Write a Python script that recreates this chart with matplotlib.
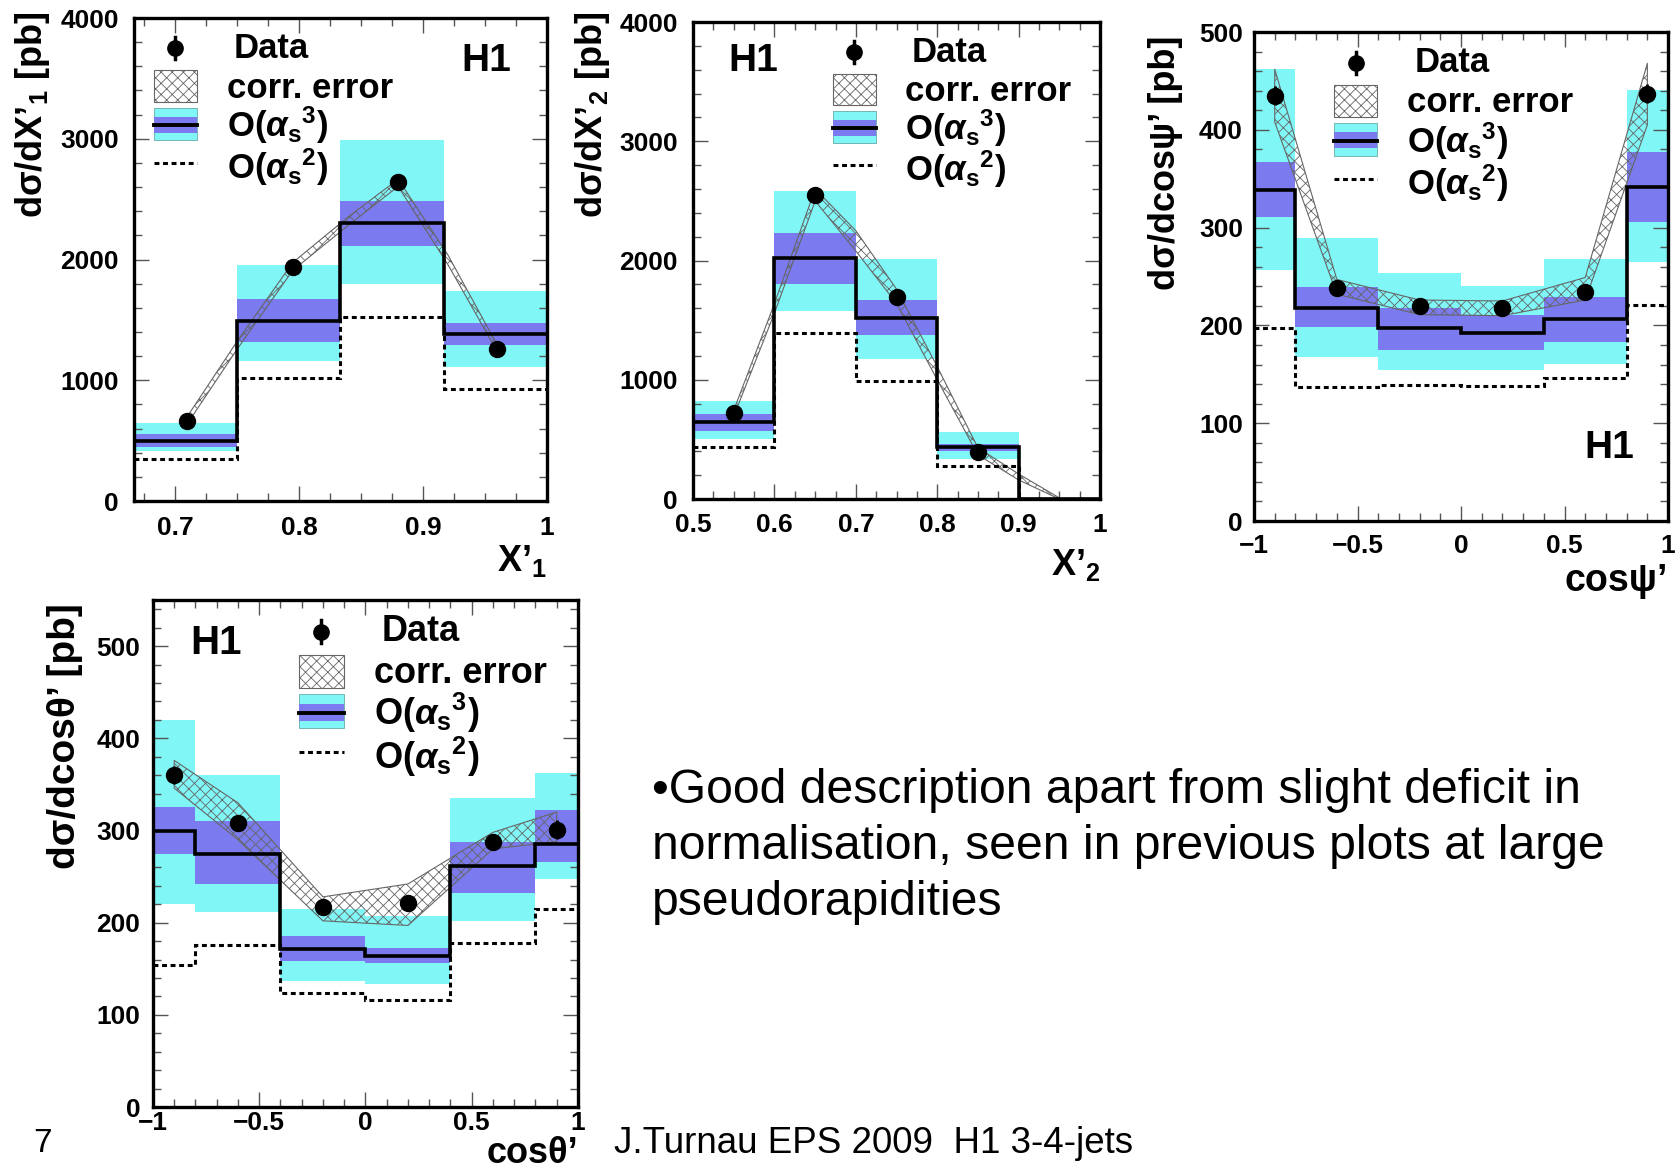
import numpy as np
import matplotlib
matplotlib.use('Agg')
import matplotlib.pyplot as plt
from matplotlib.patches import Rectangle
from matplotlib.ticker import MultipleLocator

plt.rcParams['font.family'] = ['Liberation Sans', 'DejaVu Sans']
plt.rcParams['font.weight'] = 'bold'
plt.rcParams['mathtext.fontset'] = 'custom'
plt.rcParams['mathtext.rm'] = 'Liberation Sans:bold'
plt.rcParams['mathtext.it'] = 'Liberation Sans:italic:bold'
plt.rcParams['mathtext.bf'] = 'Liberation Sans:bold'
plt.rcParams['hatch.linewidth'] = 0.6

CYAN = '#80f6f6'
BLUE = '#7b7bef'
HATCH = '#666666'

# ---- dσ/dX'1 ----
edges1 = [0.667, 0.75, 0.833, 0.917, 1.0]
nlo1 = [497, 1494, 2302, 1381]
cyan_lo1 = [415, 1159, 1799, 1107]
cyan_hi1 = [650, 1951, 2988, 1741]
blue_lo1 = [451, 1320, 2113, 1290]
blue_hi1 = [558, 1677, 2485, 1473]
lo1 = [345, 1015, 1524, 930]
data_x1 = [0.71, 0.795, 0.88, 0.96]
data_y1 = [665, 1936, 2640, 1259]
data_e1 = [40, 50, 50, 40]
band_x1 = [0.71, 0.75, 0.795, 0.84, 0.88, 0.92, 0.96]
band_hi1 = [700, 1320, 1975, 2355, 2665, 2040, 1290]
band_lo1 = [640, 1255, 1910, 2285, 2605, 1960, 1235]

# ---- dσ/dX'2 ----
edges2 = [0.5, 0.6, 0.7, 0.8, 0.9, 1.0]
nlo2 = [647, 2021, 1521, 434, 0]
cyan_lo2 = [504, 1573, 1176, 339, 0]
cyan_hi2 = [824, 2586, 2012, 565, 0]
blue_lo2 = [571, 1802, 1374, 405, 0]
blue_hi2 = [713, 2229, 1670, 458, 0]
lo2 = [437, 1389, 986, 275, 0]
data_x2 = [0.55, 0.65, 0.75, 0.85]
data_y2 = [718, 2553, 1695, 397]
data_e2 = [40, 60, 50, 30]
band_x2 = [0.55, 0.6, 0.65, 0.7, 0.75, 0.8, 0.85, 0.9, 0.95]
band_hi2 = [745, 1640, 2600, 2250, 1760, 1110, 430, 210, 10]
band_lo2 = [695, 1560, 2500, 2080, 1640, 1000, 370, 160, 0]

# ---- dσ/dcosψ' ----
edges3 = [-1, -0.8, -0.4, 0, 0.4, 0.8, 1]
nlo3 = [338, 218, 197, 192, 207, 342]
cyan_lo3 = [257, 168, 154, 154, 161, 265]
cyan_hi3 = [462, 289, 254, 240, 268, 441]
blue_lo3 = [311, 198, 175, 175, 183, 306]
blue_hi3 = [367, 239, 218, 211, 229, 377]
lo3 = [197, 137, 139, 138, 146, 221]
data_x3 = [-0.9, -0.6, -0.2, 0.2, 0.6, 0.9]
data_y3 = [435, 238, 220, 218, 234, 437]
data_e3 = [10, 6, 5, 5, 6, 10]
band_x3 = [-0.9, -0.6, -0.2, 0.2, 0.6, 0.9]
band_hi3 = [462, 247, 226, 225, 249, 468]
band_lo3 = [408, 232, 211, 210, 226, 405]

# ---- dσ/dcosθ' ----
edges4 = [-1, -0.8, -0.4, 0, 0.4, 0.8, 1]
nlo4 = [300, 275, 171, 164, 261, 285]
cyan_lo4 = [220, 212, 137, 134, 202, 247]
cyan_hi4 = [420, 360, 215, 207, 335, 362]
blue_lo4 = [274, 242, 158, 156, 232, 266]
blue_hi4 = [326, 310, 186, 173, 287, 322]
lo4 = [154, 176, 124, 116, 178, 215]
data_x4 = [-0.9, -0.6, -0.2, 0.2, 0.6, 0.9]
data_y4 = [360, 308, 217, 221, 288, 301]
data_e4 = [10, 8, 6, 6, 8, 10]
band_x4 = [-0.9, -0.6, -0.2, 0.2, 0.6, 0.9]
band_hi4 = [376, 330, 228, 242, 298, 320]
band_lo4 = [346, 290, 202, 197, 280, 288]

xticks12 = [[0.7, 0.8, 0.9, 1.0], [0.5, 0.6, 0.7, 0.8, 0.9, 1.0]]
xticklabels12 = [['0.7', '0.8', '0.9', '1'], ['0.5', '0.6', '0.7', '0.8', '0.9', '1']]
xticks_cos = [-1, -0.5, 0, 0.5, 1]
xticklabels_cos = ['\u22121', '\u22120.5', '0', '0.5', '1']

O3 = r'O($\alpha_{\mathrm{s}}{}^{\mathrm{3}}$)'
O2 = r'O($\alpha_{\mathrm{s}}{}^{\mathrm{2}}$)'

fig = plt.figure(figsize=(16.81, 11.69), dpi=100)


def panel(rect, edges, nlo, clo, chi, blo, bhi, lo, dx, dy, de, bx, blo_, bhi_):
    ax = fig.add_axes(rect)
    e = np.array(edges)
    w = np.diff(e)
    ax.bar(e[:-1], np.array(chi) - np.array(clo), bottom=clo, width=w,
           align='edge', color=CYAN, linewidth=0, zorder=1)
    ax.bar(e[:-1], np.array(bhi) - np.array(blo), bottom=blo, width=w,
           align='edge', color=BLUE, linewidth=0, zorder=2)
    ax.fill_between(bx, blo_, bhi_, facecolor='none', edgecolor=HATCH,
                    hatch='xxx', linewidth=0.8, zorder=3)
    ax.stairs(nlo, edges, color='black', linewidth=2.6, baseline=None, zorder=4)
    ax.stairs(lo, edges, color='black', linewidth=2.2, linestyle=(0, (1.6, 1.2)),
              baseline=None, zorder=4)
    ax.errorbar(dx, dy, yerr=de, fmt='o', color='black', ms=11.5,
                elinewidth=2, capsize=0, zorder=5)
    for s in ax.spines.values():
        s.set_linewidth(2.4)
        s.set_zorder(6)
    ax.tick_params(which='both', direction='in', top=True, right=True,
                   color='#555555', labelsize=19, width=1)
    ax.tick_params(which='major', length=11)
    ax.tick_params(which='minor', length=6)
    return ax


def legend(ax, bx, fs=25):
    w = 0.105
    ax.plot([bx + w / 2], [0.937], 'o', color='black', ms=11,
            transform=ax.transAxes, clip_on=False, zorder=7)
    ax.plot([bx + w / 2] * 2, [0.915, 0.96], color='black', lw=2.5,
            transform=ax.transAxes, clip_on=False, zorder=7)
    ax.add_patch(Rectangle((bx, 0.826), w, 0.066, transform=ax.transAxes,
                           facecolor='white', edgecolor=HATCH, hatch='xxx',
                           lw=0.8, zorder=7))
    ax.add_patch(Rectangle((bx, 0.747), w, 0.067, transform=ax.transAxes,
                           facecolor=CYAN, edgecolor='#66aaaa', lw=0.6, zorder=7))
    ax.add_patch(Rectangle((bx, 0.762), w, 0.033, transform=ax.transAxes,
                           facecolor=BLUE, lw=0, zorder=7))
    ax.plot([bx, bx + w], [0.778, 0.778], color='black', lw=2.8,
            transform=ax.transAxes, zorder=8)
    ax.plot([bx, bx + w], [0.700, 0.700], color='black', lw=2.2,
            linestyle=(0, (1.6, 1.2)), transform=ax.transAxes, zorder=8)
    tx = bx + w + 0.072
    ax.text(tx + 0.017, 0.937, 'Data', transform=ax.transAxes, fontsize=fs,
            va='center', ha='left')
    ax.text(tx, 0.855, 'corr. error', transform=ax.transAxes, fontsize=fs,
            va='center', ha='left')
    ax.text(tx, 0.777, O3, transform=ax.transAxes, fontsize=fs,
            va='center', ha='left')
    ax.text(tx, 0.691, O2, transform=ax.transAxes, fontsize=fs,
            va='center', ha='left')


# panel 1
ax1 = panel([0.0797, 0.5714, 0.2457, 0.4132], edges1, nlo1, cyan_lo1, cyan_hi1,
            blue_lo1, blue_hi1, lo1, data_x1, data_y1, data_e1,
            band_x1, band_lo1, band_hi1)
ax1.set_xlim(0.667, 1.0)
ax1.set_ylim(0, 4000)
ax1.set_xticks(xticks12[0], xticklabels12[0])
ax1.set_yticks([0, 1000, 2000, 3000, 4000])
ax1.xaxis.set_minor_locator(MultipleLocator(0.025))
ax1.yaxis.set_minor_locator(MultipleLocator(200))
ax1.tick_params(axis='x', pad=11)
ax1.tick_params(axis='y', pad=11)
legend(ax1, 0.048)
ax1.text(0.913, 0.911, 'H1', transform=ax1.transAxes, fontsize=28,
         ha='right', va='center')
ax1.text(-0.246, 1.0145, "d\u03c3/dX\u2019$_{\\mathrm{1}}$ [pb]", rotation=90,
         transform=ax1.transAxes, fontsize=26, ha='center', va='top')
ax1.text(1.0, -0.087, "X\u2019$_{\\mathrm{1}}$", transform=ax1.transAxes,
         fontsize=26, ha='right', va='top')

# panel 2
ax2 = panel([0.4123, 0.5731, 0.2421, 0.4080], edges2, nlo2, cyan_lo2, cyan_hi2,
            blue_lo2, blue_hi2, lo2, data_x2, data_y2, data_e2,
            band_x2, band_lo2, band_hi2)
ax2.set_xlim(0.5, 1.0)
ax2.set_ylim(0, 4000)
ax2.set_xticks(xticks12[1], xticklabels12[1])
ax2.set_yticks([0, 1000, 2000, 3000, 4000])
ax2.xaxis.set_minor_locator(MultipleLocator(0.025))
ax2.yaxis.set_minor_locator(MultipleLocator(200))
ax2.tick_params(axis='x', pad=10)
ax2.tick_params(axis='y', pad=11)
legend(ax2, 0.344)
ax2.text(0.086, 0.918, 'H1', transform=ax2.transAxes, fontsize=28,
         ha='left', va='center')
ax2.text(-0.248, 1.023, "d\u03c3/dX\u2019$_{\\mathrm{2}}$ [pb]", rotation=90,
         transform=ax2.transAxes, fontsize=26, ha='center', va='top')
ax2.text(1.0, -0.10, "X\u2019$_{\\mathrm{2}}$", transform=ax2.transAxes,
         fontsize=26, ha='right', va='top')

# panel 3
ax3 = panel([0.7460, 0.5543, 0.2463, 0.4183], edges3, nlo3, cyan_lo3, cyan_hi3,
            blue_lo3, blue_hi3, lo3, data_x3, data_y3, data_e3,
            band_x3, band_lo3, band_hi3)
ax3.set_xlim(-1, 1)
ax3.set_ylim(0, 500)
ax3.set_xticks(xticks_cos, xticklabels_cos)
ax3.set_yticks([0, 100, 200, 300, 400, 500])
ax3.xaxis.set_minor_locator(MultipleLocator(0.1))
ax3.yaxis.set_minor_locator(MultipleLocator(20))
ax3.tick_params(axis='x', pad=9)
ax3.tick_params(axis='y', pad=8)
legend(ax3, 0.193)
ax3.text(0.918, 0.149, 'H1', transform=ax3.transAxes, fontsize=28,
         ha='right', va='center')
ax3.text(-0.215, 0.992, "d\u03c3/dcos\u03c8\u2019 [pb]", rotation=90,
         transform=ax3.transAxes, fontsize=26, ha='center', va='top')
ax3.text(1.0, -0.086, "cos\u03c8\u2019", transform=ax3.transAxes,
         fontsize=27, ha='right', va='top')

# panel 4
ax4 = panel([0.0910, 0.0530, 0.2528, 0.4337], edges4, nlo4, cyan_lo4, cyan_hi4,
            blue_lo4, blue_hi4, lo4, data_x4, data_y4, data_e4,
            band_x4, band_lo4, band_hi4)
ax4.set_xlim(-1, 1)
ax4.set_ylim(0, 550)
ax4.set_xticks(xticks_cos, xticklabels_cos)
ax4.set_yticks([0, 100, 200, 300, 400, 500])
ax4.xaxis.set_minor_locator(MultipleLocator(0.1))
ax4.yaxis.set_minor_locator(MultipleLocator(20))
ax4.tick_params(axis='x', pad=3)
ax4.tick_params(axis='y', pad=9)
legend(ax4, 0.344, fs=26)
ax4.text(0.087, 0.915, 'H1', transform=ax4.transAxes, fontsize=29,
         ha='left', va='center')
ax4.text(-0.208, 0.994, "d\u03c3/dcos\u03b8\u2019 [pb]", rotation=90,
         transform=ax4.transAxes, fontsize=28, ha='center', va='top')
ax4.text(1.0, -0.058, "cos\u03b8\u2019", transform=ax4.transAxes,
         fontsize=26, ha='right', va='top')

# slide text
fig.text(0.388, 0.343,
         "\u2022Good description apart from slight deficit in\n"
         "normalisation, seen in previous plots at large\n"
         "pseudorapidities",
         fontsize=34.7, fontweight='normal', ha='left', va='top', linespacing=1.32)
fig.text(0.365, 0.0214, "J.Turnau EPS 2009  H1 3-4-jets", fontsize=26.5,
         fontweight='normal', ha='left', va='center')
fig.text(0.020, 0.0214, "7", fontsize=24, fontweight='normal',
         ha='left', va='center')

fig.savefig('out.png', dpi=100)
